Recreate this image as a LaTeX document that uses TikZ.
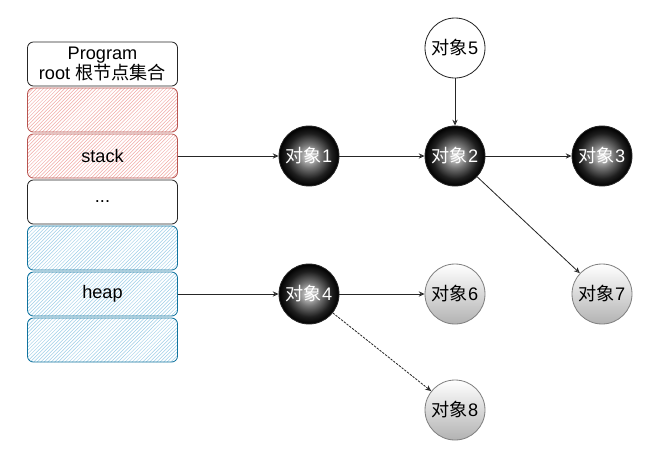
\documentclass[tikz,border=0pt]{standalone}
\usepackage{fontspec}
\setmainfont{Liberation Sans}
\newfontfamily\cjk{Noto Sans CJK SC}
\usetikzlibrary{arrows.meta,patterns,positioning}

\definecolor{stackline}{HTML}{B85450}
\definecolor{stackfill}{HTML}{F0A8A4}
\definecolor{heapline}{HTML}{10739E}
\definecolor{heapfill}{HTML}{9CCDE6}
\pgfdeclareradialshading{darkorb}{\pgfpoint{0bp}{0bp}}{color(0bp)=(white!90!black); color(10bp)=(black!55); color(19bp)=(black!88); color(25bp)=(black); color(50bp)=(black)}
\newcommand\celldots{...}

\begin{document}
\begin{tikzpicture}[x=0.03cm,y=-0.03cm,font=\fontsize{15.5}{17}\selectfont,
	cell/.style={rounded corners=5pt,minimum width=4.5cm,minimum height=1.32cm,align=center,inner sep=1pt,line width=0.7pt},
	plaincell/.style={cell,draw=black!85,fill=white},
	stackcell/.style={cell,draw=stackline,pattern=north east lines,pattern color=stackfill},
	heapcell/.style={cell,draw=heapline,pattern=north east lines,pattern color=heapfill},
	obj/.style={circle,minimum size=1.8cm,inner sep=0pt,line width=0.7pt},
	darkobj/.style={obj,draw=black!85,shading=darkorb,text=white},
	greyobj/.style={obj,draw=black!50,top color=white,bottom color=black!30},
	plainobj/.style={obj,draw=black!85,fill=white},
	link/.style={draw=black!85,line width=0.7pt,-{Stealth[open,length=5pt,width=4.5pt]}}]
	\useasboundingbox (0,0) rectangle (655,466);
	
	\foreach \txt/\kind [count=\n] in {{Program\\root {\cjk 根节点集合}}/plaincell, {}/stackcell, stack/stackcell, \celldots/plaincell, {}/heapcell, heap/heapcell, {}/heapcell}
		\node[\kind] (B\n) at (102.5, 18+46*\n) {\txt};
	
	\foreach \num/\x/\y/\kind in {1/309/156/darkobj, 2/455/156/darkobj, 3/602/156/darkobj, 4/309/294/darkobj, 5/455/48/plainobj, 6/455/294/greyobj, 7/602/294/greyobj, 8/455/410/greyobj}
		\node[\kind] (O\num) at (\x,\y) {{\cjk 对象}\num};
	
	\draw[link] (B3.east) -- (O1);
	\draw[link] (B6.east) -- (O4);
	\path[link]
		(O1) edge (O2)
		(O2) edge (O3)
		(O5) edge (O2)
		(O2) edge (O7)
		(O4) edge (O6)
		(O4) edge[dashed,dash pattern=on 2pt off 1pt] (O8);
\end{tikzpicture}
\end{document}
